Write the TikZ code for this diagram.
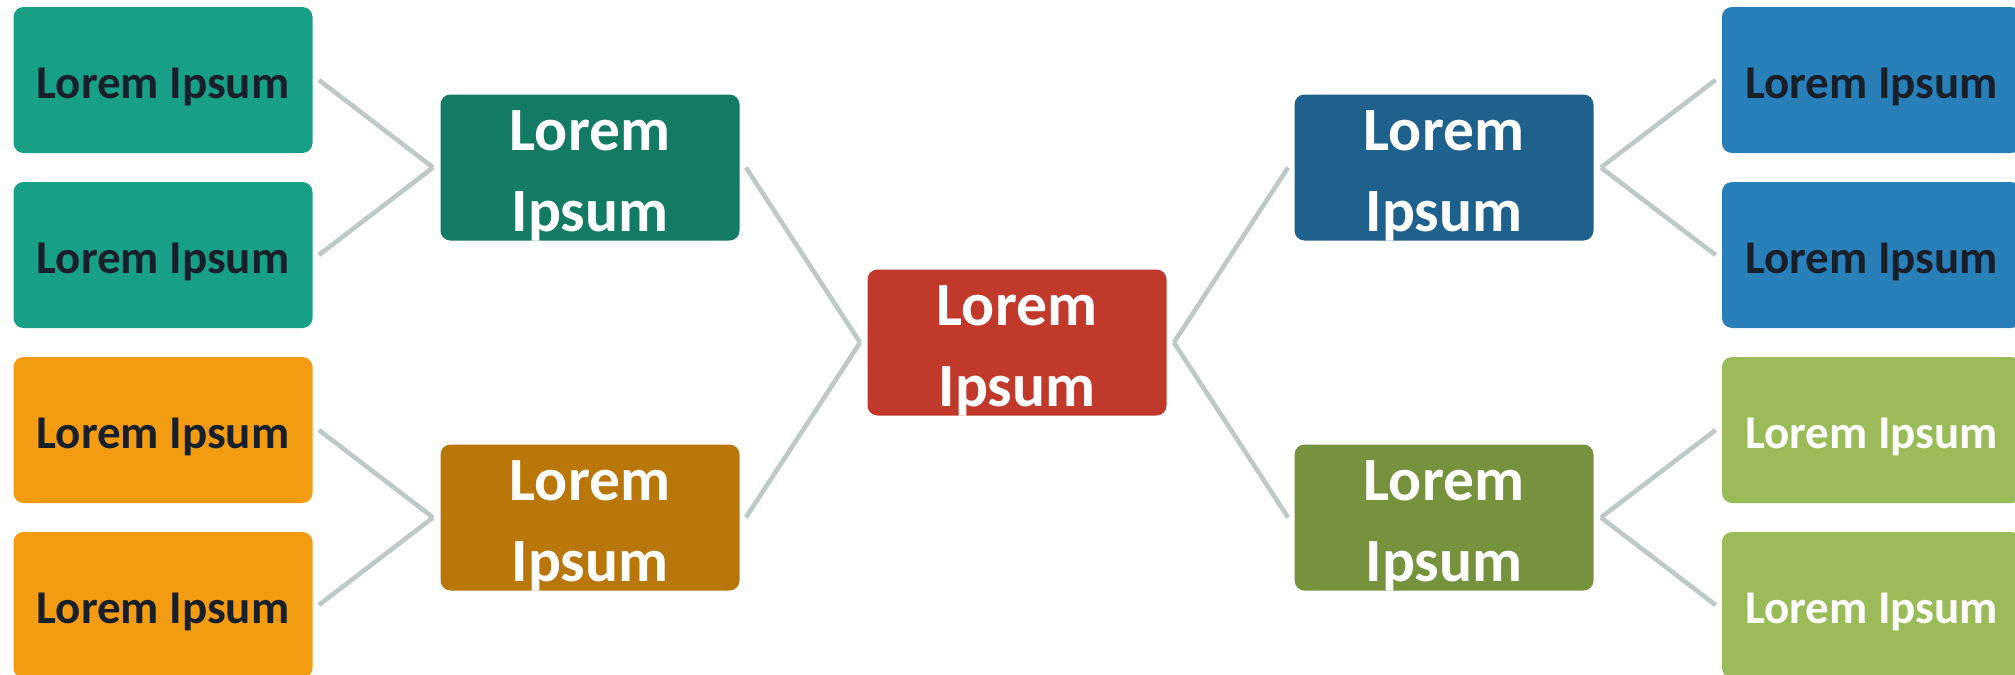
\documentclass[tikz,border=0pt]{standalone}
\usepackage{fontspec}
\setmainfont{Carlito}
\definecolor{tealleaf}{HTML}{17A086}
\definecolor{tealhub}{HTML}{137A63}
\definecolor{orangeleaf}{HTML}{F39C12}
\definecolor{orangehub}{HTML}{B9770A}
\definecolor{redhub}{HTML}{C0392B}
\definecolor{bluehub}{HTML}{1F618D}
\definecolor{blueleaf}{HTML}{2980B9}
\definecolor{greenhub}{HTML}{76923C}
\definecolor{greenleaf}{HTML}{9BBB59}
\definecolor{darktext}{HTML}{17202A}
\definecolor{linkgray}{HTML}{BFC9C8}
\begin{document}
\begin{tikzpicture}[x=0.5pt,y=-0.5pt,
  box/.style={rounded corners=5pt, minimum width=149.5pt, minimum height=73pt, inner sep=0pt, align=center},
  leaf/.style={box, text=darktext, font=\bfseries\fontsize{23.5}{28}\selectfont, text height=18pt, text depth=0pt},
  hub/.style={box, text=white, font=\bfseries\fontsize{30.75}{40.5}\selectfont, text height=64pt, text depth=0pt},
  link/.style={draw=linkgray, line width=2.3pt}]
\clip (0,0) rectangle (2015,675);
\fill[white] (0,0) rectangle (2015,675);
% left leaves
\node[leaf, fill=tealleaf] (l1) at (163,80) {Lorem Ipsum};
\node[leaf, fill=tealleaf] (l2) at (163,255) {Lorem Ipsum};
\node[leaf, fill=orangeleaf] (l3) at (163,430) {Lorem Ipsum};
\node[leaf, fill=orangeleaf] (l4) at (163,605) {Lorem Ipsum};
% right leaves
\node[leaf, fill=blueleaf] (r1) at (1871.5,80) {Lorem Ipsum};
\node[leaf, fill=blueleaf] (r2) at (1871.5,255) {Lorem Ipsum};
\node[leaf, fill=greenleaf, text=white] (r3) at (1871.5,430) {Lorem Ipsum};
\node[leaf, fill=greenleaf, text=white] (r4) at (1871.5,605) {Lorem Ipsum};
% hubs
\node[hub, fill=tealhub] (ml1) at (590,167.5) {Lorem\\Ipsum};
\node[hub, fill=orangehub] (ml2) at (590,517.5) {Lorem\\Ipsum};
\node[hub, fill=bluehub] (mr1) at (1444,167.5) {Lorem\\Ipsum};
\node[hub, fill=greenhub] (mr2) at (1444,517.5) {Lorem\\Ipsum};
\node[hub, fill=redhub] (c) at (1017,342.5) {Lorem\\Ipsum};
% connectors
\draw[link] ([xshift=3pt]l1.east) -- ([xshift=-3.5pt]ml1.west);
\draw[link] ([xshift=3pt]l2.east) -- ([xshift=-3.5pt]ml1.west);
\draw[link] ([xshift=3pt]l3.east) -- ([xshift=-3.5pt]ml2.west);
\draw[link] ([xshift=3pt]l4.east) -- ([xshift=-3.5pt]ml2.west);
\draw[link] ([xshift=-3pt]r1.west) -- ([xshift=3.5pt]mr1.east);
\draw[link] ([xshift=-3pt]r2.west) -- ([xshift=3.5pt]mr1.east);
\draw[link] ([xshift=-3pt]r3.west) -- ([xshift=3.5pt]mr2.east);
\draw[link] ([xshift=-3pt]r4.west) -- ([xshift=3.5pt]mr2.east);
\draw[link] ([xshift=3pt]ml1.east) -- ([xshift=-3.5pt]c.west);
\draw[link] ([xshift=3pt]ml2.east) -- ([xshift=-3.5pt]c.west);
\draw[link] ([xshift=-3pt]mr1.west) -- ([xshift=3.5pt]c.east);
\draw[link] ([xshift=-3pt]mr2.west) -- ([xshift=3.5pt]c.east);
\end{tikzpicture}
\end{document}
